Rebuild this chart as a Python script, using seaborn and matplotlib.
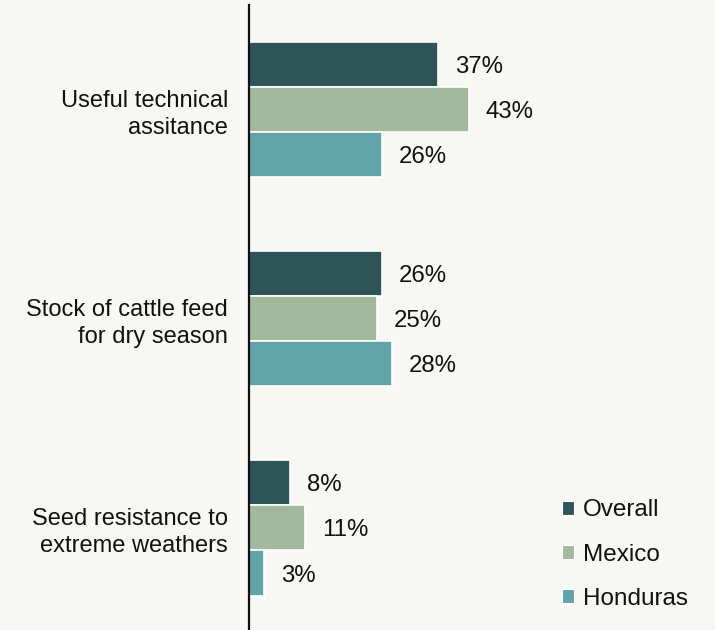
import matplotlib
matplotlib.use("Agg")
import matplotlib.pyplot as plt
import seaborn as sns
import pandas as pd

categories = ["Useful technical\nassitance", "Stock of cattle feed\nfor dry season", "Seed resistance to\nextreme weathers"]
series = ["Overall", "Mexico", "Honduras"]
overall = [37, 26, 8]
mexico = [43, 25, 11]
honduras = [26, 28, 3]
colors = ["#2e5457", "#a3b99d", "#60a4a9"]

rows = []
for s, vals in zip(series, [overall, mexico, honduras]):
    for c, v in zip(categories, vals):
        rows.append({"category": c, "series": s, "value": v})
df = pd.DataFrame(rows)

sns.set_style("white")
plt.rcParams["font.family"] = ["Liberation Sans", "DejaVu Sans"]
bg = "#f7f7f3"

fig = plt.figure(figsize=(7.15, 6.3), dpi=100, facecolor=bg)
ax = fig.add_axes([249/715, 0.0, 1 - 249/715, 1 - 5/630])
ax.set_facecolor(bg)

sns.barplot(data=df, y="category", x="value", hue="series", hue_order=series,
            order=categories, palette=colors, saturation=1, orient="h", width=0.646,
            edgecolor="white", linewidth=1.2, ax=ax, legend=True)

for cont in ax.containers:
    texts = ax.bar_label(cont, labels=[f"{int(v)}%" for v in cont.datavalues],
                         padding=12, fontsize=17.3, color="#111111")
    for t in texts:
        t.set_verticalalignment("center_baseline")

ax.set_xlim(0, 466/5.115)
ax.set_ylim(2.488, -0.502)
ax.set_xlabel("")
ax.set_ylabel("")
ax.set_xticks([])
ax.tick_params(axis="y", length=0, pad=15, labelsize=17, labelcolor="#111111")
for lbl in ax.get_yticklabels():
    lbl.set_horizontalalignment("right")
    lbl.set_multialignment("right")
    lbl.set_linespacing(1.25)
for sp in ["top", "right", "bottom"]:
    ax.spines[sp].set_visible(False)
ax.spines["left"].set_color("#111111")
ax.spines["left"].set_linewidth(1.6)

handles, labels = ax.get_legend_handles_labels()
for h in handles:
    h.set_edgecolor("white")
    h.set_linewidth(0.8)
ax.legend(handles, labels, loc="lower left", bbox_to_anchor=(545/715, 3/630),
          bbox_transform=fig.transFigure, frameon=False, fontsize=17.5,
          handlelength=0.5, handleheight=0.5, handletextpad=0.35,
          labelspacing=0.92, borderaxespad=0.3, labelcolor="#111111")

fig.savefig("out.png", dpi=100, facecolor=bg)
